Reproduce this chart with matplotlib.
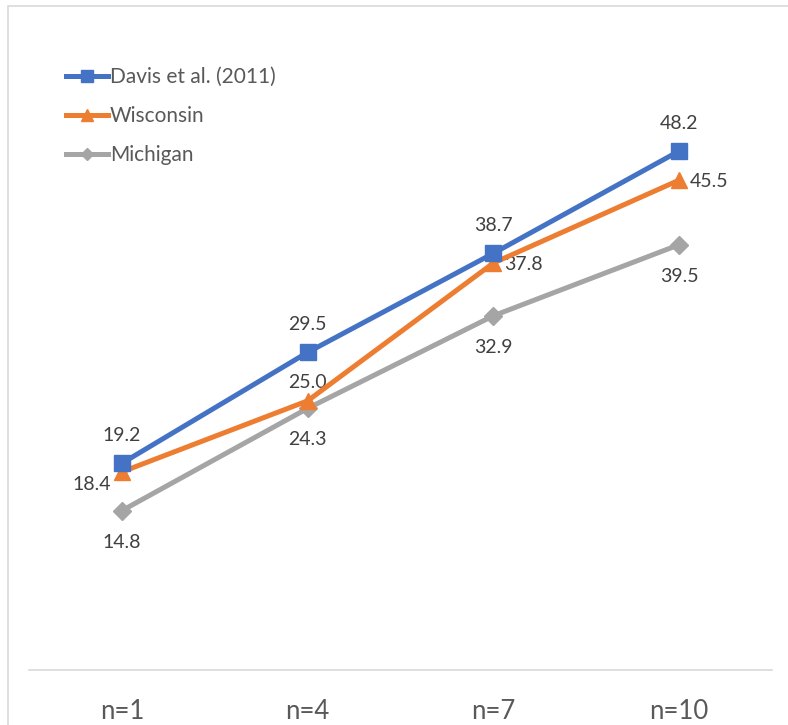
import matplotlib
matplotlib.use("Agg")
import matplotlib.pyplot as plt
from matplotlib.patches import Rectangle
from matplotlib.lines import Line2D

categories = ["n=1", "n=4", "n=7", "n=10"]
davis = [19.2, 29.5, 38.7, 48.2]
wisconsin = [18.4, 25.0, 37.8, 45.5]
michigan = [14.8, 24.3, 32.9, 39.5]

plt.rcParams['font.family'] = ['Lato', 'DejaVu Sans']

W, H = 788, 725
fig = plt.figure(figsize=(W / 100, H / 100), dpi=100)
ax = fig.add_axes([29 / W, (H - 670) / H, (772 - 29) / W, (670 - 24) / H])

x = list(range(len(categories)))
blue, orange, gray = "#4472C4", "#ED7D31", "#A5A5A5"

ax.plot(x, michigan, color=gray, lw=3.6, marker="D", ms=9, label="Michigan", zorder=3)
ax.plot(x, wisconsin, color=orange, lw=3.6, marker="^", ms=12, label="Wisconsin", zorder=4)
ax.plot(x, davis, color=blue, lw=3.6, marker="s", ms=11, label="Davis et al. (2011)", zorder=5)

lab_color = "#404040"
fs = 14
for i, v in enumerate(davis):
    ax.annotate(f"{v:.1f}", (i, v), xytext=(0, 14), textcoords="offset points",
                ha="center", va="bottom", fontsize=fs, color=lab_color)
for i, v in enumerate(michigan):
    ax.annotate(f"{v:.1f}", (i, v), xytext=(0, -16.5), textcoords="offset points",
                ha="center", va="top", fontsize=fs, color=lab_color)
wis_off = [(-8, -9, "right", "center"), (0, 7, "center", "bottom"),
           (8, -1, "left", "center"), (8, -1, "left", "center")]
for i, v in enumerate(wisconsin):
    dx, dy, ha, va = wis_off[i]
    ax.annotate(f"{v:.1f}", (i, v), xytext=(dx, dy), textcoords="offset points",
                ha=ha, va=va, fontsize=fs, color=lab_color)

ax.set_xlim(-0.5, 3.5)
ax.set_ylim(0, 60)
ax.set_xticks(x)
ax.set_xticklabels(categories, fontsize=18.5, color="#595959")
ax.tick_params(axis="x", length=0, pad=21)
ax.set_yticks([])
for s in ["top", "right", "left"]:
    ax.spines[s].set_visible(False)
ax.spines["bottom"].set_color("#D9D9D9")
ax.spines["bottom"].set_linewidth(1.2)

handles = [
    Line2D([], [], color=blue, lw=3.6, marker="s", ms=8),
    Line2D([], [], color=orange, lw=3.6, marker="^", ms=8),
    Line2D([], [], color=gray, lw=3.6, marker="D", ms=6),
]
leg = fig.legend(handles, ["Davis et al. (2011)", "Wisconsin", "Michigan"],
                 loc="upper left", bbox_to_anchor=(66 / W, 1 - 67 / H),
                 frameon=False, fontsize=15, handlelength=2.0, handletextpad=0.1,
                 labelspacing=0.92, borderaxespad=0, borderpad=0)
for t in leg.get_texts():
    t.set_color("#595959")

fig.patches.append(Rectangle((8 / W, -0.01), 1.1, 1 - 6 / H + 0.01, transform=fig.transFigure,
                             fill=False, edgecolor="#D9D9D9", lw=1.2, zorder=0))

fig.savefig("out.png", dpi=100)
